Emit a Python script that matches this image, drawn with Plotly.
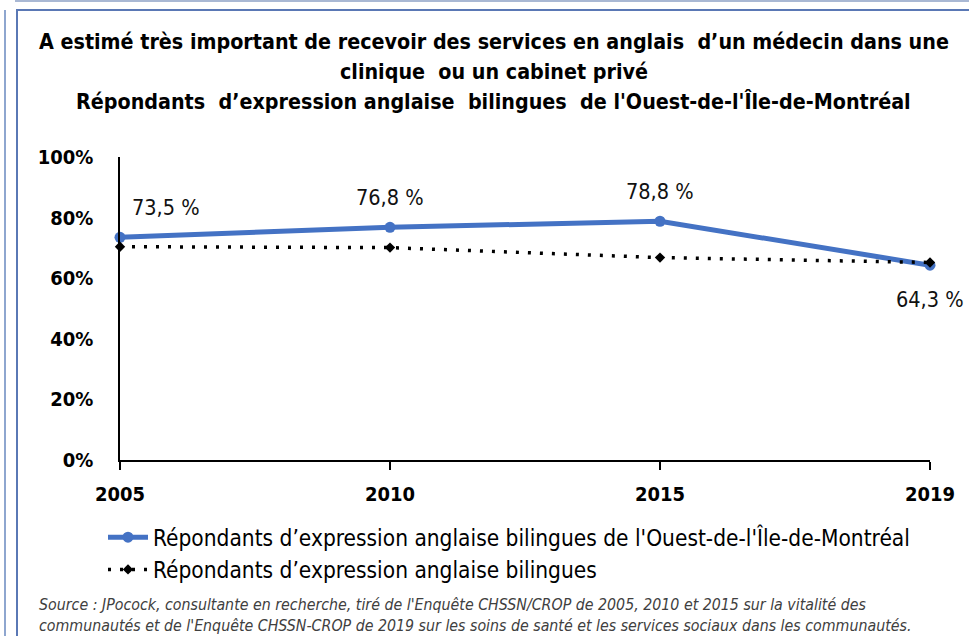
import plotly.graph_objects as go

years = ["2005", "2010", "2015", "2019"]
ouest_values = [73.5, 76.8, 78.8, 64.3]
ouest_labels = ["73,5 %", "76,8 %", "78,8 %", "64,3 %"]
bilingues_values = [70.4, 70.1, 66.8, 65.2]
y_ticks = [0, 20, 40, 60, 80, 100]
y_tick_labels = ["0%", "20%", "40%", "60%", "80%", "100%"]

series1_name = "Répondants d’expression anglaise bilingues de l'Ouest-de-l'Île-de-Montréal"
series2_name = "Répondants d’expression anglaise bilingues"

W, H = 969, 636
FONT = "DejaVu Sans Condensed, Liberation Sans Narrow, Roboto, sans-serif"

def px(x):
    return x / W

def py(y):
    return (H - y) / H

fig = go.Figure()
fig.add_trace(go.Scatter(
    x=years, y=ouest_values, name=series1_name, mode="lines+markers",
    line=dict(color="#4472C4", width=5),
    marker=dict(color="#4472C4", size=11, symbol="circle"),
    cliponaxis=False,
))
fig.add_trace(go.Scatter(
    x=years, y=bilingues_values, name=series2_name, mode="lines+markers",
    line=dict(color="black", width=3.5, dash="3px,9px"),
    marker=dict(color="black", size=8, symbol="diamond"),
    cliponaxis=False,
))

annotations = []
label_shifts = [(46, 30), (0, 30), (0, 30), (0, -34)]
for i, (v, lab, (dx, dy)) in enumerate(zip(ouest_values, ouest_labels, label_shifts)):
    # category index i on the category x axis
    annotations.append(dict(
        x=i, y=v, xref="x", yref="y", text=lab, showarrow=False,
        xanchor="center", yanchor="middle", xshift=dx, yshift=dy,
        font=dict(size=21.5, color="#111111", family=FONT),
    ))

title_lines = [
    "A estimé très important de recevoir des services en anglais  d’un médecin dans une",
    "clinique  ou un cabinet privé",
    "Répondants  d’expression anglaise  bilingues  de l'Ouest-de-l'Île-de-Montréal",
]
for i, t in enumerate(title_lines):
    annotations.append(dict(
        text="<b>" + t + "</b>", x=px(494), y=py(42 + 30 * i), xref="paper", yref="paper",
        showarrow=False, xanchor="center", yanchor="middle",
        font=dict(size=21.3, color="black", family=FONT),
    ))
source_lines = [
    "Source : JPocock, consultante en recherche, tiré de l'Enquête CHSSN/CROP de 2005, 2010 et 2015 sur la vitalité des",
    "communautés et de l'Enquête CHSSN-CROP de 2019 sur les soins de santé et les services sociaux dans les communautés.",
]
for i, t in enumerate(source_lines):
    annotations.append(dict(
        text="<i>" + t + "</i>", x=px(37), y=py(604 + 21 * i), xref="paper", yref="paper",
        showarrow=False, xanchor="left", yanchor="middle",
        font=dict(size=15.8, color="#404040", family=FONT),
    ))

shapes = [
    dict(type="line", xref="paper", yref="paper", x0=px(5), x1=px(5), y0=py(10), y1=py(636),
         line=dict(color="#8ea6cf", width=2)),
    dict(type="line", xref="paper", yref="paper", x0=px(15), x1=px(969), y0=py(1), y1=py(1),
         line=dict(color="#a9b8d4", width=2)),
    dict(type="line", xref="paper", yref="paper", x0=px(17), x1=px(17), y0=py(9), y1=py(636),
         line=dict(color="#5a78b5", width=2)),
    dict(type="line", xref="paper", yref="paper", x0=px(17), x1=px(969), y0=py(10), y1=py(10),
         line=dict(color="#5a78b5", width=2)),
]

fig.update_layout(
    width=W, height=H,
    margin=dict(l=0, r=0, t=0, b=0, autoexpand=False),
    paper_bgcolor="white", plot_bgcolor="white",
    font=dict(family=FONT, color="black"),
    annotations=annotations,
    shapes=shapes,
    showlegend=True,
    legend=dict(
        x=px(103), y=py(516), xanchor="left", yanchor="top",
        font=dict(size=22.5, color="black", family=FONT),
        bgcolor="rgba(0,0,0,0)", tracegroupgap=0, itemwidth=40,
    ),
    xaxis=dict(
        domain=[px(120), px(930)], type="category", range=[0, 3],
        showline=True, linecolor="black", linewidth=1.5,
        ticks="outside", ticklen=8, tickcolor="black", tickwidth=1.5,
        tickfont=dict(size=20, color="black", family=FONT),
        showgrid=False, zeroline=False, ticklabelstandoff=7,
        tickprefix="<b>", ticksuffix="</b>", automargin=False,
    ),
    yaxis=dict(
        domain=[py(460), py(157)], range=[0, 100],
        showline=True, linecolor="black", linewidth=1.5,
        ticks="", showgrid=False, zeroline=False,
        tickvals=y_ticks, ticktext=["<b>" + t + "</b>" for t in y_tick_labels],
        tickfont=dict(size=20, color="black", family=FONT),
        ticklabelstandoff=21, automargin=False,
    ),
)

fig.write_html("out.html", config={"displayModeBar": False},
               post_script="document.body.style.margin='0';")
